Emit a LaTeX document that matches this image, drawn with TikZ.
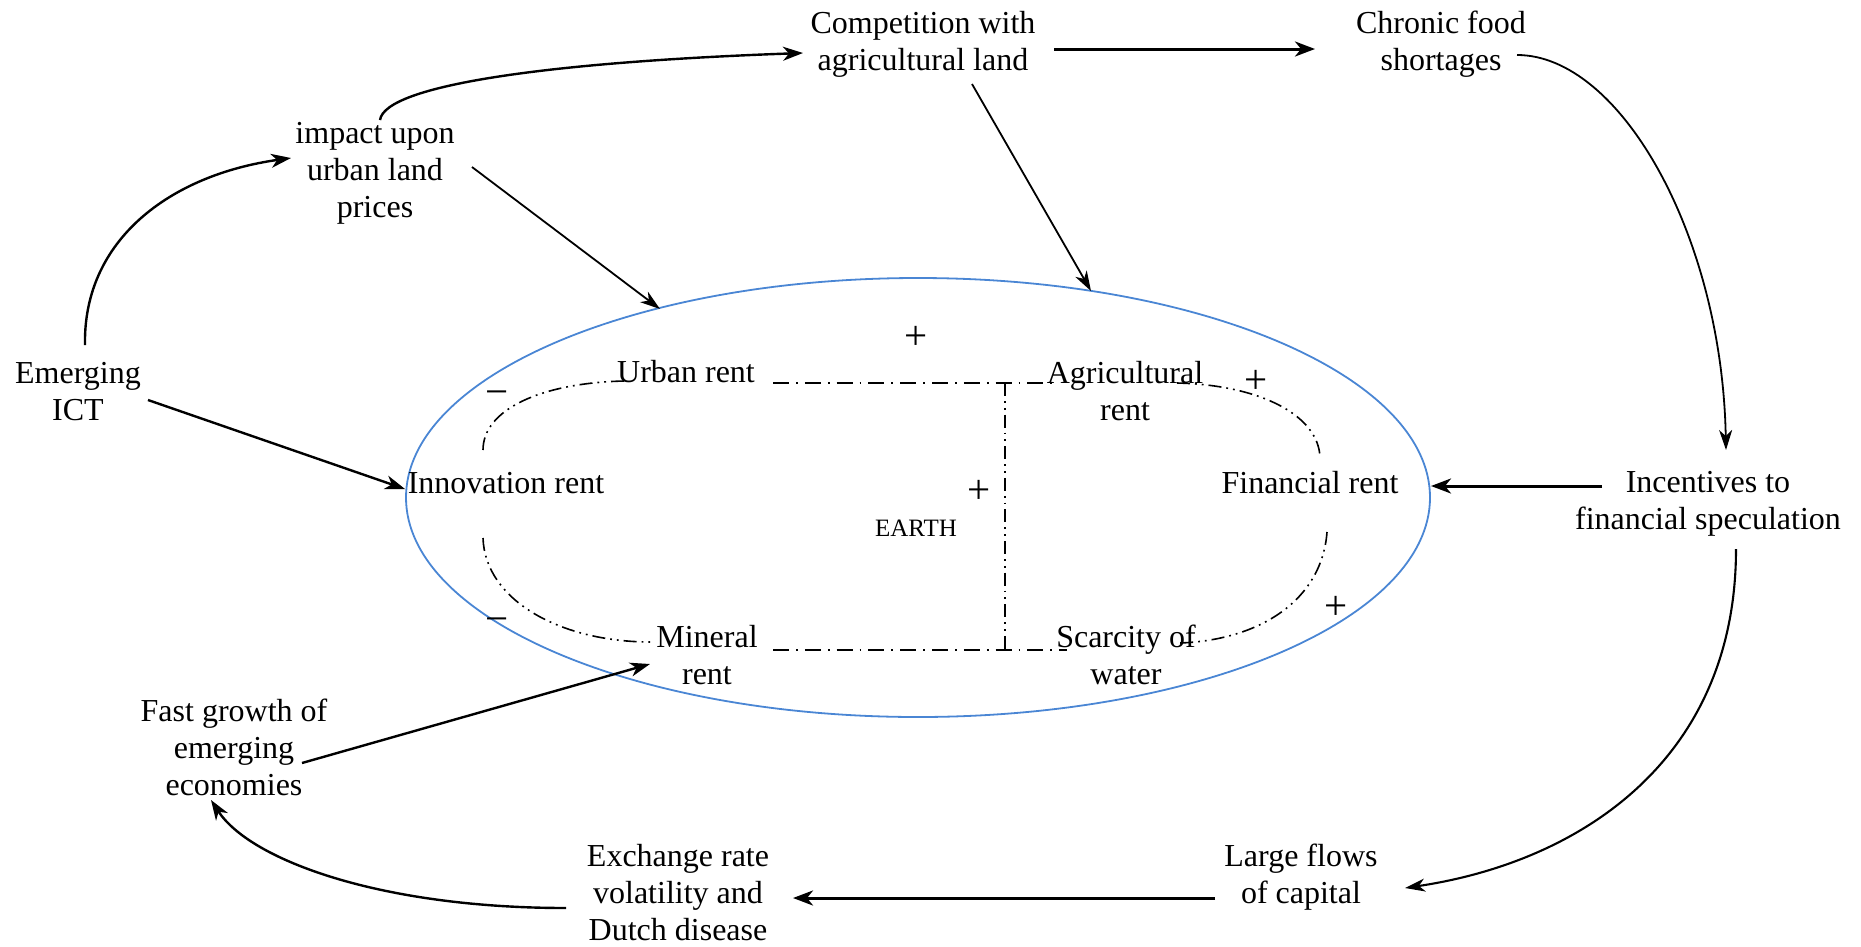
\documentclass[tikz,border=0pt]{standalone}
\usepackage{fontspec}
\setmainfont{Liberation Serif}
\usetikzlibrary{arrows.meta,shapes.geometric}
\definecolor{ovalblue}{RGB}{74,134,212}
\tikzset{
  lbl/.style={font=\fontsize{32}{37}\selectfont, align=center, inner sep=0pt},
  sgn/.style={font=\fontsize{41}{45}\selectfont, inner sep=0pt},
  smalllbl/.style={font=\fontsize{25}{29}\selectfont, inner sep=0pt},
  arr/.style={-{Stealth[length=20pt,width=14pt,inset=6pt]}, line width=2.4pt},
  thinarr/.style={-{Stealth[length=20pt,width=13pt,inset=6pt]}, line width=1.8pt},
  thickarr/.style={-{Stealth[length=20pt,width=15pt,inset=6pt]}, line width=3pt},
  dashdot/.style={line width=1.6pt, dash pattern=on 16pt off 7pt on 1.8pt off 7pt},
  dashdotdot/.style={line width=1.6pt, dash pattern=on 13pt off 5pt on 1.8pt off 5pt on 1.8pt off 5pt},
}
\begin{document}
\begin{tikzpicture}[x=1pt,y=-1pt]
\useasboundingbox (0,0) rectangle (1861,946);

% central oval
\node[draw=ovalblue, line width=1.8pt, ellipse, minimum width=1024pt, minimum height=439pt, inner sep=0pt] (oval) at (918,497.5) {};

% text nodes
\node[lbl] (comp) at (923,44) {Competition with\\agricultural land};
\node[lbl] (chronic) at (1441,44) {Chronic food\\shortages};
\node[lbl] (impact) at (375,173) {impact upon\\urban land\\prices};
\node[lbl] (ict) at (78,392) {Emerging\\ICT};
\node[lbl] (innov) at (506,483) {Innovation rent};
\node[lbl] (urban) at (686,372) {Urban rent};
\node[lbl] (agri) at (1125,391) {Agricultural\\rent};
\node[lbl] (fin) at (1310,483) {Financial rent};
\node[lbl] (mineral) at (707,655) {Mineral\\rent};
\node[lbl] (scarcity) at (1126,655) {Scarcity of\\water};
\node[smalllbl] (earth) at (916,528) {EARTH};
\node[lbl] (incent) at (1708,504) {Incentives to\\financial speculation};
\node[lbl] (fast) at (234,747) {Fast growth of\\emerging\\economies};
\node[lbl] (exch) at (678,893) {Exchange rate\\volatility and\\Dutch disease};
\node[lbl] (large) at (1301,877) {Large flows\\of capital};

% signs
\node[sgn] (p1) at (916,338) {+};
\node[sgn] (p2) at (979,492) {+};
\node[sgn] (p3) at (1256,382) {+};
\node[sgn] (p4) at (1336,608) {+};
\node[sgn] (m1) at (497,398) {−};
\node[sgn] (m2) at (497,625) {−};

% connector end points
\coordinate (a1s) at (85,345);   \coordinate (a1e) at (291,158);
\coordinate (a2s) at (472,167);  \coordinate (a2e) at (660,309);
\coordinate (a3s) at (380,120);  \coordinate (a3e) at (803,53);
\coordinate (a4s) at (1054,49);  \coordinate (a4e) at (1315,49);
\coordinate (a5s) at (972,84);   \coordinate (a5e) at (1091,291);
\coordinate (a6s) at (1517,55);  \coordinate (a6e) at (1726,450);
\coordinate (a7s) at (1602,486); \coordinate (a7e) at (1431,486);
\coordinate (a8s) at (1736,549); \coordinate (a8e) at (1405,888);
\coordinate (a9s) at (1215,898); \coordinate (a9e) at (793,898);
\coordinate (a10s) at (566,908); \coordinate (a10e) at (211,800);
\coordinate (a11s) at (302,763); \coordinate (a11e) at (650,664);
\coordinate (a12s) at (148,400); \coordinate (a12e) at (405,489);

% arrows
\draw[arr] (a1s) .. controls (83,240) and (170,175) .. (a1e);
\draw[thinarr] (a2s) -- (a2e);
\draw[arr] (a3s) .. controls (385,85) and (550,62) .. (a3e);
\draw[thickarr] (a4s) -- (a4e);
\draw[thinarr] (a5s) -- (a5e);
\draw[thinarr] (a6s) .. controls (1620,55) and (1722,235) .. (a6e);
\draw[thickarr] (a7s) -- (a7e);
\draw[thinarr, line width=2.1pt] (a8s) .. controls (1736,760) and (1580,862) .. (a8e);
\draw[thickarr] (a9s) -- (a9e);
\draw[arr] (a10s) .. controls (380,908) and (250,860) .. (a10e);
\draw[arr] (a11s) -- (a11e);
\draw[arr] (a12s) -- (a12e);

% inner dash-dot structure
\coordinate (ht1) at (773,383); \coordinate (ht2) at (1052,383);
\coordinate (hb1) at (773,650); \coordinate (hb2) at (1067,650);
\coordinate (vt) at (1005,383); \coordinate (vb) at (1005,650);
\draw[dashdot] (ht1) -- (ht2);
\draw[dashdot] (hb1) -- (hb2);
\draw[dashdotdot] (vt) -- (vb);

\coordinate (lu1) at (624,381); \coordinate (lu2) at (483,450);
\coordinate (ll1) at (483,538); \coordinate (ll2) at (651,642);
\coordinate (ru1) at (1177,383); \coordinate (ru2) at (1320,457);
\coordinate (rl1) at (1327,532); \coordinate (rl2) at (1180,643);
\draw[dashdotdot] (lu1) .. controls (540,383) and (483,410) .. (lu2);
\draw[dashdotdot] (ll1) .. controls (485,600) and (560,642) .. (ll2);
\draw[dashdotdot] (ru1) .. controls (1260,385) and (1318,415) .. (ru2);
\draw[dashdotdot] (rl1) .. controls (1322,600) and (1260,640) .. (rl2);
\end{tikzpicture}
\end{document}
